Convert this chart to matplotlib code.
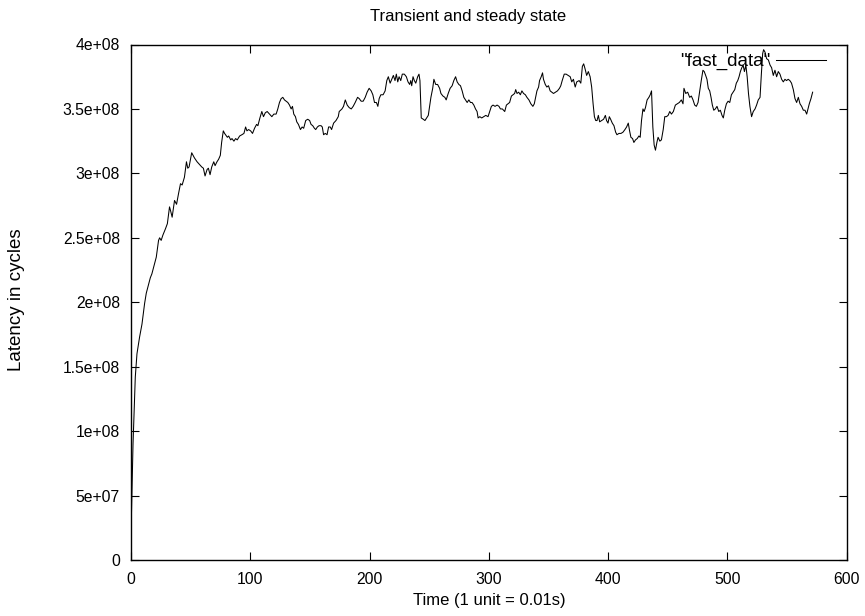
import matplotlib
matplotlib.use("Agg")
import matplotlib.pyplot as plt
import numpy as np

plt.rcParams['font.family'] = ['Liberation Sans', 'DejaVu Sans']

title = "Transient and steady state"
xlabel = "Time (1 unit = 0.01s)"
ylabel = "Latency in cycles"
series_name = '"fast_data"'

xticks = [0, 100, 200, 300, 400, 500, 600]
yticks = [0, 5e7, 1e8, 1.5e8, 2e8, 2.5e8, 3e8, 3.5e8, 4e8]
ytick_labels = ["0", "5e+07", "1e+08", "1.5e+08", "2e+08", "2.5e+08", "3e+08", "3.5e+08", "4e+08"]

time = [
    0, 1.7, 3.6, 5, 7.2, 9.2, 10.3, 11.4, 12.8, 14.2, 16.2, 17.5, 19.2, 21.2, 23.1, 24, 25.3, 26.7, 28.9, 30.5,
    32.3, 33.2, 34.5, 36.5, 38.2, 39.8, 41.5, 42.9, 44.8, 46.5, 47.6, 48.7, 50.9, 53.2, 55.4, 57.4, 59.3, 60.7,
    62.1, 63.8, 64.9, 66.3, 67.7, 69.4, 70.5, 72.1, 73.5, 74.9, 76, 77.4,
    78.5, 80.8, 81.9, 83.6, 84.7, 86.3, 87.7, 89.1, 91.1, 93, 94.7, 96.1, 97.2, 98.6, 100.3, 101.9, 103.6, 105.3,
    106.4, 108.1, 109.7, 111.1, 112.6, 114.2, 116.2, 118.1, 119.8, 121.7, 123.1, 124.5, 125.9, 127.3, 128.7,
    130.1, 131.5, 132.9, 134.3, 135.4, 136.5, 137.9, 139, 140.4, 142.1, 143.5, 144.8, 146.5, 148.2, 149.8, 151,
    152.4, 153.8, 154.9, 156.3, 157.7, 159.4, 160.4, 161.5, 162.9, 164.4, 165.7, 167.1, 168.2, 169.9, 171.9, 173.8,
    174.6, 176.9, 178.2, 179.7, 181.3, 183, 184.7, 186.3, 188, 190, 191.4, 193, 194.7, 196.4, 198, 199.7, 201.4,
    202.8, 204.2, 205.8, 207, 208.1, 209.5, 211.4, 213.1, 214.5, 215.8, 217.3, 218.7, 220, 221.4, 222.5, 223.7,
    224.8, 226.2, 227.5, 229.2, 230.9, 232.3, 233.7, 234.6, 235.4, 236.5, 237.6, 238.8, 240.4, 241.5, 242.3,
    243.4, 245.1, 246.5, 247.9, 249.3, 250.4, 251.5, 253, 254, 255.5, 257.1, 258.8, 259.9, 261.6, 263.2, 264.3,
    266, 267.6, 269.3, 270.7, 272.2,
    273.5, 274.9, 276.3, 277.7, 279.1, 280.5, 281.9, 283.3, 284.7, 286, 287.5, 288.9, 290.2, 291.1, 292.5, 294.1,
    295.8, 297.5, 299.4, 300.8, 302.2, 303.6, 305.3, 307, 308.6, 309.8, 311.4, 313.4, 314.8, 316.1, 317.5, 319,
    320.3, 321.7, 322.6, 323.7, 325.1, 326.5, 327.8, 329.2, 330.7, 332, 333.7, 335.3, 337, 338.2, 339.3, 340.4,
    341.8, 342.6, 344, 345.1, 345.9, 347.4, 348.7, 350.1, 351.5, 352.9, 354.3, 356, 357.6, 359.3, 360.4, 361.6,
    363.3, 364.9, 366.6,
    368.3, 369.6, 371, 372.5, 373.8, 375.8, 377.2, 378.5, 379.6, 380.8, 382.1, 383.5, 385, 386.3, 387.5, 388.6,
    389.7, 390.8, 391.9, 393, 394.7, 396.3, 397.8, 398.8, 400, 401.1, 402.2, 403.6, 405, 406.4, 407.5, 409.2,
    410.9, 412.6, 414.2, 415.6, 417, 418.1, 419.2, 420.6, 421.7, 423.1, 424.5, 425.9, 427, 428.1, 429.3, 430.3,
    431.4, 432.8, 434.3, 435.4, 436.5, 437.6, 438.7, 439.8, 441, 442, 443.5, 444.8, 446.3, 447.6, 449, 450.4,
    451.8, 453.2, 454.8, 456.5, 458.2, 459.8, 461.5, 462.9,
    463.7, 465.2, 466.8, 468.5, 469.9, 471.3, 472.7, 474.1, 475.5, 476.9, 478.2, 479.6, 480.7, 481.9, 483, 484.1,
    485.3, 486.4, 487.5, 488.7, 490, 491.4, 492.9, 494.2, 495.6, 496.7, 497.9, 499.3, 500.7, 502.1, 503.5, 504.9,
    506.3, 507.6, 508.8, 509.9, 511, 512.2, 513.3, 514.4, 515.6, 516.7, 517.8, 519, 520.4, 521.8, 523.3, 524.6,
    526, 527.5, 528.6, 529.7, 530.5, 531.7, 533, 534.5, 535.9, 537.2, 538.6, 540, 541.4, 542.8, 544.2, 545.6,
    547, 548.4, 549.7, 551.1, 552.5, 553.9, 555.4, 556.8, 558.2, 559.6, 561, 562.4, 563.8, 565.2, 566.6, 567.7,
    568.8, 570.2, 571.6,
]

latency_millions = [
    20, 90, 142, 160, 173, 183, 191, 199, 207, 212, 219, 222, 228, 235, 248, 250, 248, 252, 257, 261,
    274, 271, 266, 279, 276, 284, 292, 291, 297, 309, 304, 305, 316, 312, 309, 307, 305, 304,
    298, 303, 304, 299, 305, 309, 306, 309, 311, 314, 324, 333,
    331, 328, 329, 326, 327, 325, 327, 326, 329, 330, 331, 336, 333, 334, 333, 331, 335, 338,
    337, 343, 348, 344, 347, 348, 346, 344, 346, 346, 350, 355, 358, 359, 357,
    356, 355, 353, 350, 352, 346, 344, 340, 338, 334, 336, 335, 341, 342, 341, 338,
    337, 335, 334, 336, 337, 337, 336, 330, 331, 330, 336, 336, 334, 339, 341, 344,
    348, 350, 352, 357, 353, 351, 350, 352, 355, 359, 358, 356, 356, 359, 363, 366, 364,
    361, 355, 355, 352, 358, 361, 361, 364, 372, 375, 370, 373, 376, 372, 377, 371,
    375, 372, 377, 377, 375, 371, 369, 372, 368, 375, 372, 370, 375, 377, 372,
    343, 342, 341, 343, 345, 352, 359, 366, 373, 369, 369, 366, 362, 360, 359, 357,
    362, 366, 368, 372, 375,
    371, 369, 368, 364, 359, 357, 355, 357, 355, 355, 353, 350, 348, 343, 344, 343,
    344, 345, 344, 348, 352, 353, 352, 353, 352, 350, 350, 348, 353, 354, 355, 360,
    361, 362, 365, 362, 363, 361, 364, 362, 361, 359, 357, 354, 352, 354, 359, 364,
    367, 372, 375, 378, 373, 369, 367, 368, 364, 363, 362, 363, 364, 366, 368, 372,
    377, 377, 376,
    375, 371, 373, 367, 371, 372, 370, 383, 385, 381, 376, 379, 375, 367, 354, 344,
    341, 341, 345, 340, 341, 342, 345, 341, 339, 344, 342, 339, 337, 332, 330, 331,
    331, 332, 334, 336, 339, 333, 328, 327, 324, 326, 327, 329, 328, 341, 350, 348,
    351, 357, 359, 361, 364, 336, 322, 318, 324, 328, 325, 326, 334, 344, 344, 345,
    348, 346, 348, 353, 354, 355, 357, 354,
    366, 362, 363, 359, 360, 357, 353, 352, 355, 364, 372, 380, 379, 376, 373, 366,
    364, 359, 353, 349, 350, 352, 348, 349, 345, 343, 349, 354, 356, 355, 361, 363,
    365, 370, 372, 375, 379, 382, 384, 379, 384, 375, 362, 352, 344, 348, 350, 353,
    357, 359, 377, 393, 396, 394, 389, 388, 384, 382, 376, 380, 375, 379, 377, 373,
    371, 373, 372, 373, 372, 370, 365, 358, 355, 359, 354, 352, 349, 349, 346, 350,
    354, 358, 363,
]

W, H = 865, 616
fig = plt.figure(figsize=(W / 100, H / 100), dpi=100)
left, right, bottom, top = 131, 846.5, 560, 44.5
ax = fig.add_axes([left / W, 1 - bottom / H, (right - left) / W, (bottom - top) / H])

fs = 12
tfs = 11.3
ax.plot(time, np.array(latency_millions) * 1e6, color='black', linewidth=0.75, label=series_name)

ax.set_xlim(0, 600)
ax.set_ylim(0, 4e8)
ax.set_xticks(xticks)
ax.set_xticklabels([str(v) for v in xticks], fontsize=tfs)
ax.set_yticks(yticks)
ax.set_yticklabels(ytick_labels, fontsize=tfs)
ax.tick_params(direction='in', length=6, width=0.8, top=True, right=True)
ax.tick_params(axis='y', pad=8)
ax.tick_params(axis='x', pad=9)
for s in ax.spines.values():
    s.set_linewidth(1.0)

fig.text(468 / W, 1 - 17 / H, title, ha='center', va='center', fontsize=fs)
fig.text(489 / W, 1 - 600 / H, xlabel, ha='center', va='center', fontsize=fs)
fig.text(17 / W, 1 - 300 / H, ylabel, ha='center', va='center', rotation=90, fontsize=13.5)

leg = ax.legend(loc='upper right', bbox_to_anchor=((826 - left) / (right - left), (bottom - 53) / (bottom - top)),
                frameon=False, markerfirst=False, fontsize=13.5, handlelength=2.65, handletextpad=0.3,
                borderaxespad=0, borderpad=0)

fig.savefig("out.png", dpi=100)
